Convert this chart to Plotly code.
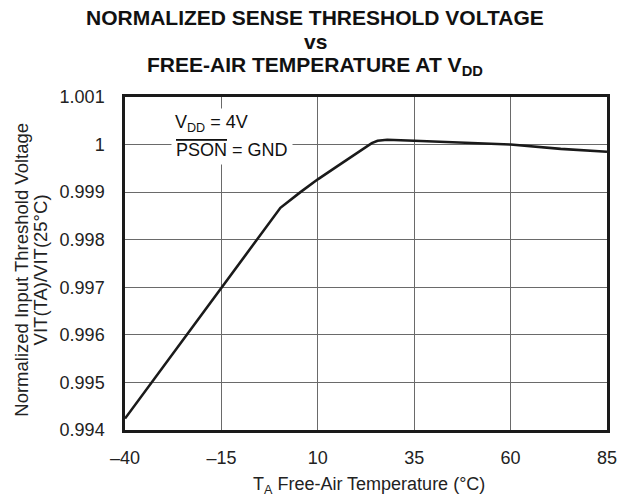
import plotly.graph_objects as go

# ---- data ----
temps = [-40, -15, 0.3, 5.5, 10, 15, 20, 24, 25.5, 28, 35, 47, 60, 73, 85]
vit_norm = [0.99424, 0.99700, 0.99867, 0.99900, 0.99927, 0.99954, 0.99981,
            1.00003, 1.00008, 1.00010, 1.00008, 1.00004, 1.00000, 0.99991, 0.99985]

x_tickvals = [-40, -15, 10, 35, 60, 85]
x_ticktext = ["\u201340", "\u201315", "10", "35", "60", "85"]
y_tickvals = [0.994, 0.995, 0.996, 0.997, 0.998, 0.999, 1.0, 1.001]
y_ticktext = ["0.994", "0.995", "0.996", "0.997", "0.998", "0.999", "1", "1.001"]

title_lines = ["NORMALIZED SENSE THRESHOLD VOLTAGE", "vs",
               "FREE-AIR TEMPERATURE AT V<sub>DD</sub>"]
ytitle_lines = ["Normalized Input Threshold Voltage", "VIT(TA)/VIT(25\u00b0C)"]
xtitle = "T<sub>A</sub> Free-Air Temperature (\u00b0C)"

FONT = "Liberation Sans, Arial, Helvetica, sans-serif"
W, H = 629, 500
L, R, T, B = 125, 14, 97, 70
PW, PH = W - L - R, H - T - B


def px(xp):
    return (xp - L) / PW


def py(yp):
    return (H - B - yp) / PH


fig = go.Figure()
fig.add_trace(go.Scatter(x=temps, y=vit_norm, mode="lines",
                         line=dict(color="#1a1a1a", width=2.6),
                         hoverinfo="skip", showlegend=False))

fig.update_layout(
    width=W, height=H,
    margin=dict(l=L, r=R, t=T, b=B),
    paper_bgcolor="white", plot_bgcolor="white",
    font=dict(family=FONT, size=18, color="#222222"),
    showlegend=False,
)

fig.update_xaxes(range=[-40, 85], tickvals=x_tickvals, ticktext=x_ticktext,
                 showgrid=True, gridcolor="#6a6a6a", gridwidth=1,
                 showline=True, linecolor="#1a1a1a", linewidth=2.5, mirror=True,
                 ticks="", zeroline=False, ticklabelstandoff=10,
                 tickfont=dict(size=18, color="#222222"))
fig.update_yaxes(range=[0.994, 1.001], tickvals=y_tickvals, ticktext=y_ticktext,
                 showgrid=True, gridcolor="#6a6a6a", gridwidth=1,
                 showline=True, linecolor="#1a1a1a", linewidth=2.5, mirror=True,
                 ticks="", zeroline=False, ticklabelstandoff=14,
                 tickfont=dict(size=18, color="#222222"))

ann = []
# title lines
for text, yc in zip(title_lines, [17.5, 41.0, 65.5]):
    ann.append(dict(text="<b>" + text + "</b>", xref="paper", yref="paper",
                    x=px(318.5), y=py(yc), xanchor="center", yanchor="middle",
                    showarrow=False, font=dict(family=FONT, size=21, color="#111111")))
# y-axis title lines
for text, xc in zip(ytitle_lines, [19, 39]):
    ann.append(dict(text=text, xref="paper", yref="paper",
                    x=px(xc), y=py(270), xanchor="center", yanchor="middle",
                    textangle=-90, showarrow=False,
                    font=dict(family=FONT, size=18.5, color="#222222")))
# x-axis title
ann.append(dict(text=xtitle, xref="paper", yref="paper",
                x=px(373), y=py(472), xanchor="center", yanchor="top",
                showarrow=False, font=dict(family=FONT, size=18, color="#222222")))
# condition labels
ann.append(dict(text="V<sub>DD</sub> = 4V", xref="paper", yref="paper",
                x=px(172), y=py(123), xanchor="left", yanchor="middle",
                showarrow=False, bgcolor="white", borderpad=3,
                font=dict(family=FONT, size=18, color="#111111")))
ann.append(dict(text="<span style='text-decoration:overline'>PSON</span> = GND",
                xref="paper", yref="paper",
                x=px(172), y=py(150), xanchor="left", yanchor="middle",
                showarrow=False, bgcolor="white", borderpad=4,
                font=dict(family=FONT, size=18, color="#111111")))
fig.update_layout(annotations=ann)

fig.write_html("out.html",
               config={"displayModeBar": False},
               post_script="document.body.style.margin='0';document.body.style.padding='0';")
